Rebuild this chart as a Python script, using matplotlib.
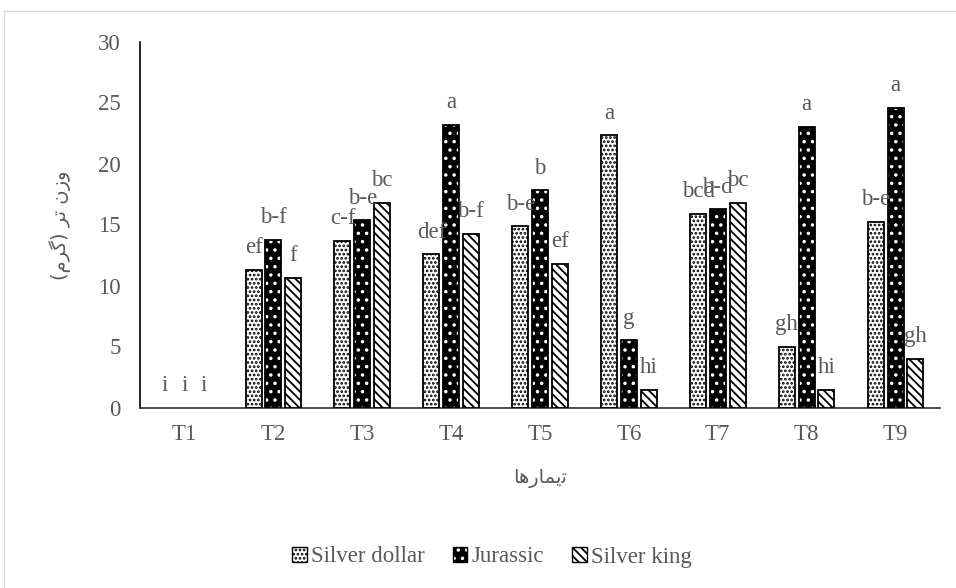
import matplotlib
matplotlib.use("Agg")
import matplotlib.pyplot as plt
import numpy as np
from matplotlib.patches import Patch, Rectangle
from matplotlib.legend_handler import HandlerTuple

categories = ["T1", "T2", "T3", "T4", "T5", "T6", "T7", "T8", "T9"]
series_names = ["Silver dollar", "Jurassic", "Silver king"]
silver_dollar = [0, 11.3, 13.65, 12.55, 14.85, 22.3, 15.9, 4.95, 15.2]
jurassic = [0, 13.75, 15.35, 23.15, 17.8, 5.5, 16.25, 23.0, 24.55]
silver_king = [0, 10.65, 16.75, 14.25, 11.8, 1.45, 16.75, 1.45, 4.0]
letters_dollar = ["i", "ef", "c-f", "def", "b-e", "a", "bcd", "gh", "b-e"]
letters_jurassic = ["i", "b-f", "b-e", "a", "b", "g", "b-d", "a", "a"]
letters_king = ["i", "f", "bc", "b-f", "ef", "hi", "bc", "hi", "gh"]
y_ticks = [0, 5, 10, 15, 20, 25, 30]

# Persian labels (presentation forms, visual order)
y_label = "(\uFEE1\uFEAE\uFB94) \uFEAE\uFE97 \uFEE5\uFEAF\uFEED"   # وزن تر (گرم)
x_label = "\uFE8E\uFEEB\uFEAD\uFE8E\uFEE4\uFBFE\uFE97"               # تیمارها

plt.rcParams['font.family'] = ['Liberation Serif', 'DejaVu Sans']
plt.rcParams['hatch.linewidth'] = 1.3
gray = "#595959"
fs = 16.5

fig = plt.figure(figsize=(9.56, 5.88), dpi=100)
W, H = 956, 588
ax = fig.add_axes([140 / W, 1 - 407.5 / H, 800 / W, 366 / H])

# outer chart border
fig.patches.append(Rectangle((4 / W, -0.1), 1.2, 1 - 11 / H + 0.1, transform=fig.transFigure,
                             fill=False, edgecolor="#d9d9d9", linewidth=1.0))

x = np.arange(len(categories))
bw = 0.18
step = 0.222
offsets = [-step, 0, step]

def lw_for(vals, lw):
    return [lw if v > 0 else 0 for v in vals]

# Silver dollar: white with dense black dots
ax.bar(x + offsets[0], silver_dollar, bw, facecolor="white", edgecolor="black",
       hatch="....", linewidth=lw_for(silver_dollar, 1.3), zorder=3)
# Jurassic: black with white dots
ax.bar(x + offsets[1], jurassic, bw, facecolor="black", edgecolor="white",
       hatch="..", linewidth=0, zorder=3)
ax.bar(x + offsets[1], jurassic, bw, fill=False, edgecolor="black",
       linewidth=lw_for(jurassic, 1.3), zorder=4)
# Silver king: white with diagonal stripes
ax.bar(x + offsets[2], silver_king, bw, facecolor="white", edgecolor="black",
       hatch="\\\\\\\\", linewidth=lw_for(silver_king, 1.3), zorder=3)

for vals, labs, off in [(silver_dollar, letters_dollar, offsets[0]),
                        (jurassic, letters_jurassic, offsets[1]),
                        (silver_king, letters_king, offsets[2])]:
    for xi, v, l in zip(x, vals, labs):
        ax.annotate(l, (xi + off, v), xytext=(0, 12), textcoords="offset points",
                    ha="center", va="baseline", fontsize=fs, color=gray, zorder=5)

ax.set_xlim(-0.5, len(categories) - 0.5)
ax.set_ylim(0, 30)
ax.set_yticks(y_ticks)
ax.set_xticks(x)
ax.set_xticklabels(categories)
ax.tick_params(axis="both", length=0, labelsize=fs, labelcolor=gray)
ax.tick_params(axis="y", pad=14)
ax.tick_params(axis="x", pad=12)
for s in ["top", "right"]:
    ax.spines[s].set_visible(False)
ax.spines["left"].set_color("black")
ax.spines["bottom"].set_color("#303030")
ax.spines["left"].set_linewidth(1.2)
ax.spines["bottom"].set_linewidth(1.2)

fig.text(60 / W, 1 - 225 / H, y_label, rotation=90, ha="center", va="center",
         fontsize=14, color=gray, family=['DejaVu Sans'])
fig.text(540 / W, 1 - 478 / H, x_label, ha="center", va="center",
         fontsize=14, color=gray, family=['DejaVu Sans'])

h1 = Patch(facecolor="white", edgecolor="black", hatch="....", linewidth=1.0)
h2 = (Patch(facecolor="black", edgecolor="white", hatch="..", linewidth=0),
      Patch(fill=False, edgecolor="black", linewidth=1.0))
h3 = Patch(facecolor="white", edgecolor="black", hatch="\\\\\\\\", linewidth=1.0)
leg = fig.legend([h1, h2, h3], series_names, loc="center",
                 bbox_to_anchor=(492 / W, 1 - 557 / H), ncol=3, frameon=False,
                 fontsize=fs, labelcolor=gray, handlelength=0.65, handleheight=0.65,
                 handletextpad=0.2, columnspacing=1.2,
                 handler_map={tuple: HandlerTuple(ndivide=1, pad=0)})

fig.savefig("out.png", dpi=100)
